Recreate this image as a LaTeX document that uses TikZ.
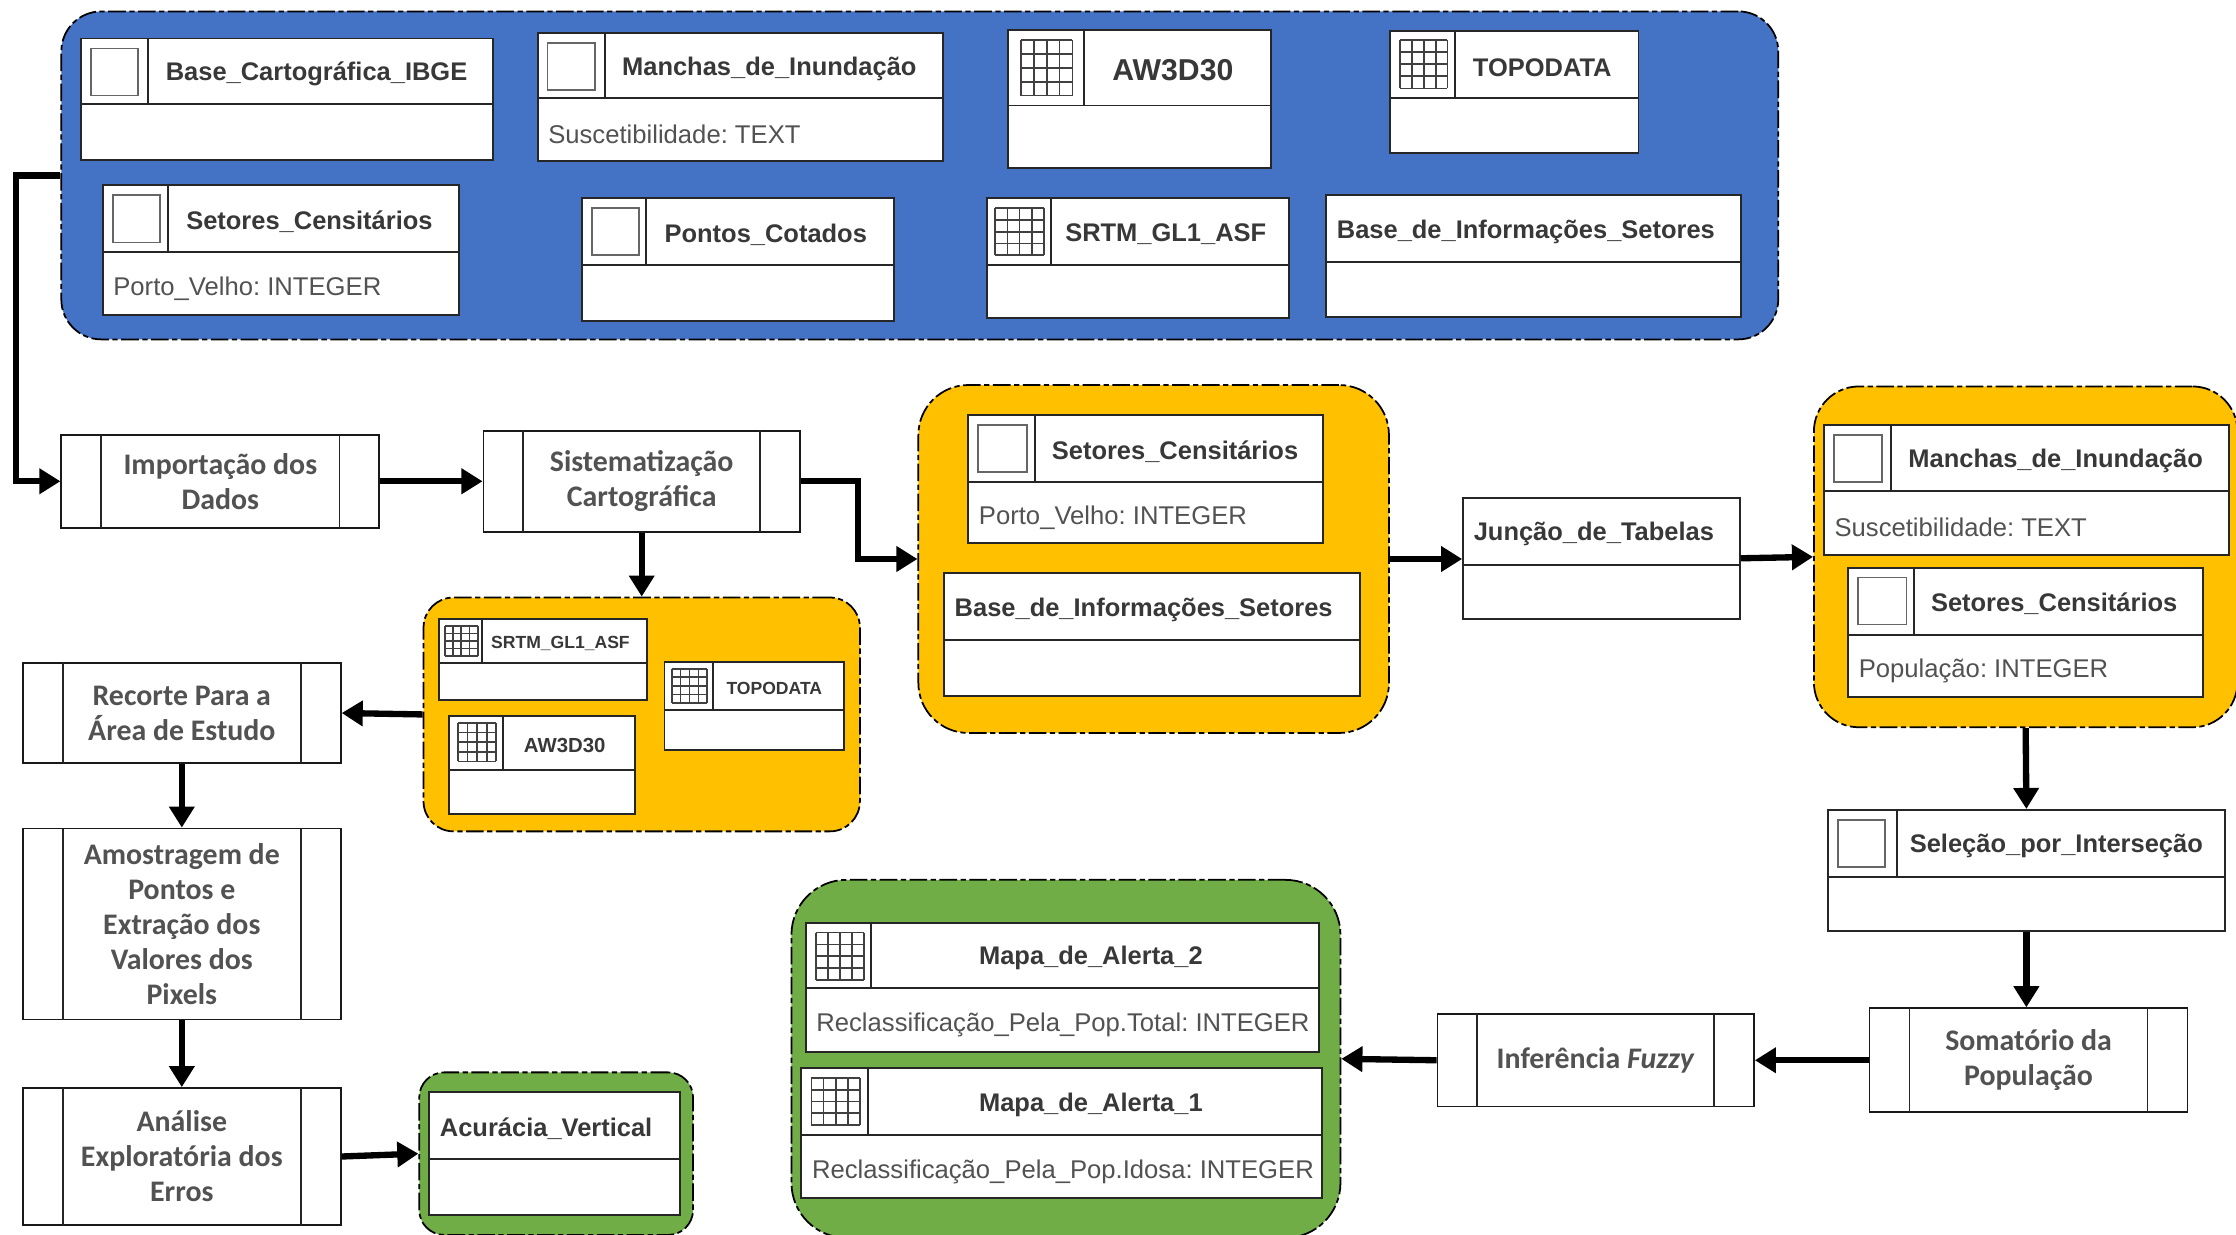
\documentclass[tikz,border=0pt]{standalone}
\usepackage{fontspec}
\setmainfont{Liberation Sans}
\newfontfamily\fontproc{Carlito}
\frenchspacing
\usetikzlibrary{arrows.meta, fit}
\definecolor{azulgrupo}{HTML}{4472C4}
\definecolor{laranjagrupo}{HTML}{FFC000}
\definecolor{verdegrupo}{HTML}{70AD47}
\tikzset{
    grupo/.style = {draw = black, line width = 0.5pt, rounded corners = 5mm, inner sep = 0pt, dash pattern = on 5pt off 1pt on 1.5pt off 1pt},
    tabela/.style = {draw = black!85, fill = white, line width = 0.55pt, inner sep = 0pt},
    linha/.style = {draw = black!85, line width = 0.55pt},
    icone/.style = {draw = black!60, line width = 0.5pt},
    titulo/.style = {font = \bfseries\fontsize{7.25}{9}\selectfont, text = black!78, inner sep = 0pt},
    atributo/.style = {font = \fontsize{7.3}{9}\selectfont, text = black!68, inner sep = 0pt, anchor = west},
    processo/.style = {draw = black!90, fill = white, line width = 0.5pt, inner sep = 0pt},
    rotulo/.style = {font = \fontproc\bfseries\fontsize{8.5}{9.95}\selectfont, text = black!68, align = center, inner sep = 0pt},
    seta/.style = {line width = 1.8pt, -{Triangle[length = 6pt, width = 7pt]}}
}
\newcommand{\tabsimples}[7]{
    \node [tabela, fit = {(#2, #3) (#4, #5)}] (#1) {};
    \draw [linha] (#2, #6) -- (#4, #6);
    \node [titulo, anchor = west] (#1Titulo) at (#2 + 7, {(#3 + #6) / 2 + 2}) {#7};
}
\newcommand{\tabcomicone}[9]{
    \node [tabela, fit = {(#2, #3) (#4, #5)}] (#1) {};
    \draw [linha] (#2, #6) -- (#4, #6);
    \draw [linha] (#7, #3) -- (#7, #6);
    \node [titulo] (#1Titulo) at ({(#7 + #4) / 2 - 3}, {(#3 + #6) / 2 + 2}) {#8};
    \node [atributo] (#1Atributo) at (#2 + 7, {(#6 + #5) / 2 + 3.5}) {#9};
}
\newcommand{\iconevazio}[4]{
    \draw [icone] (#1, #2) rectangle (#3, #4);
}
\newcommand{\iconegrade}[4]{
    \foreach \i in {0, ..., 4} {
        \draw [icone, draw = black!75] ({#1 + (#3 - #1) * \i / 4}, #2) -- ({#1 + (#3 - #1) * \i / 4}, #4);
        \draw [icone, draw = black!75] (#1, {#2 + (#4 - #2) * \i / 4}) -- (#3, {#2 + (#4 - #2) * \i / 4});
    }
}
\newcommand{\etapa}[6]{
    \node [processo, fit = {(#2, #3) (#4, #5)}] (#1) {};
    \draw [linha, line width = 0.5pt] (#2 + 28, #3) -- (#2 + 28, #5);
    \draw [linha, line width = 0.5pt] (#4 - 28, #3) -- (#4 - 28, #5);
    \node [rotulo] (#1Rotulo) at (#1.center) {#6};
}
\begin{document}
\begin{tikzpicture}[x = 0.01426cm, y = -0.01426cm]
    \useasboundingbox (0, 0) rectangle (1568, 866);

    \node [grupo, fill = azulgrupo, rounded corners = 4mm, fit = {(43, 8) (1247, 238)}] (grupoBase) {};
    \tabcomicone{tabIBGE}{57}{27}{346}{112}{73}{104}{Base\_Cartográfica\_IBGE}{}
    \iconevazio{64}{34}{97}{67}
    \tabcomicone{tabManchas}{377}{23}{661}{113}{69}{424}{Manchas\_de\_Inundação}{Suscetibilidade: TEXT}
    \iconevazio{384}{30}{417}{63}
    \begin{scope}[titulo/.append style = {font = \bfseries\fontsize{8.6}{11}\selectfont}]
        \tabcomicone{tabAW}{707}{21}{891}{118}{74}{760}{AW3D30}{}
    \end{scope}
    \iconegrade{716}{28}{752}{67}
    \tabcomicone{tabTopo}{975}{22}{1149}{107}{69}{1020}{TOPODATA}{}
    \iconegrade{982}{28}{1015}{62}
    \tabcomicone{tabSetores}{72}{130}{322}{221}{177}{118}{Setores\_Censitários}{Porto\_Velho: INTEGER}
    \iconevazio{79}{137}{112}{170}
    \tabcomicone{tabPontos}{408}{139}{627}{225}{186}{453}{Pontos\_Cotados}{}
    \iconevazio{415}{146}{448}{179}
    \tabcomicone{tabSRTM}{692}{139}{904}{223}{186}{737}{SRTM\_GL1\_ASF}{}
    \iconegrade{698}{146}{732}{179}
    \tabsimples{tabInfo}{930}{137}{1221}{222}{184}{Base\_de\_Informações\_Setores}

    \etapa{procImport}{43}{305}{266}{370}{Importação dos\\Dados}
    \etapa{procSist}{339}{302}{561}{373}{Sistematização\\Cartográfica}

    \node [grupo, fill = laranjagrupo, fit = {(644, 270) (974, 514)}] (grupoJuncao) {};
    \tabcomicone{tabSetoresDois}{679}{291}{928}{381}{338}{726}{Setores\_Censitários}{Porto\_Velho: INTEGER}
    \iconevazio{686}{298}{720}{331}
    \tabsimples{tabInfoDois}{662}{402}{954}{488}{449}{Base\_de\_Informações\_Setores}

    \tabsimples{tabJuncao}{1026}{349}{1220}{434}{396}{Junção\_de\_Tabelas}

    \node [grupo, fill = laranjagrupo, rounded corners = 4.5mm, fit = {(1272, 271) (1569, 510)}] (grupoInter) {};
    \tabcomicone{tabManchasDois}{1279}{298}{1563}{389}{344}{1326}{Manchas\_de\_Inundação}{Suscetibilidade: TEXT}
    \iconevazio{1286}{305}{1320}{338}
    \tabcomicone{tabSetoresTres}{1296}{398}{1545}{489}{445}{1342}{Setores\_Censitários}{População: INTEGER}
    \iconevazio{1303}{405}{1337}{438}

    \tabcomicone{tabSelecao}{1282}{568}{1560}{653}{615}{1330}{Seleção\_por\_Interseção}{}
    \iconevazio{1289}{575}{1322}{608}

    \etapa{procSoma}{1311}{707}{1534}{780}{Somatório da\\População}
    \etapa{procFuzzy}{1008}{711}{1230}{776}{Inferência \textit{Fuzzy}}

    \node [grupo, fill = verdegrupo, rounded corners = 5.5mm, fit = {(555, 617) (940, 868)}] (grupoAlerta) {};
    \tabcomicone{tabAlertaDois}{565}{647}{925}{738}{693}{611}{Mapa\_de\_Alerta\_2}{Reclassificação\_Pela\_Pop.Total: INTEGER}
    \iconegrade{572}{654}{606}{687}
    \tabcomicone{tabAlertaUm}{562}{749}{927}{840}{796}{609}{Mapa\_de\_Alerta\_1}{Reclassificação\_Pela\_Pop.Idosa: INTEGER}
    \iconegrade{569}{756}{603}{789}

    \node [grupo, fill = laranjagrupo, rounded corners = 3mm, fit = {(297, 419) (603, 583)}] (grupoMDE) {};
    \begin{scope}[titulo/.append style = {font = \bfseries\fontsize{5}{6}\selectfont}]
        \tabcomicone{tabSRTMDois}{308}{434}{454}{491}{465}{338}{SRTM\_GL1\_ASF}{}
        \tabcomicone{tabTopoDois}{466}{464}{592}{526}{498}{500}{TOPODATA}{}
    \end{scope}
    \begin{scope}[titulo/.append style = {font = \bfseries\fontsize{5.8}{7}\selectfont}]
        \tabcomicone{tabAWDois}{315}{502}{445}{571}{540}{353}{AW3D30}{}
    \end{scope}
    \iconegrade{312}{439}{335}{460}
    \iconegrade{471}{469}{496}{493}
    \iconegrade{321}{507}{348}{534}

    \etapa{procRecorte}{16}{465}{239}{535}{Recorte Para a\\Área de Estudo}
    \etapa{procAmostra}{16}{581}{239}{715}{Amostragem de\\Pontos e\\Extração dos\\Valores dos\\Pixels}
    \etapa{procAnalise}{16}{763}{239}{859}{Análise\\Exploratória dos\\Erros}

    \node [grupo, fill = verdegrupo, rounded corners = 2.5mm, fit = {(294, 752) (486, 866)}] (grupoAcuracia) {};
    \tabsimples{tabAcuracia}{301}{766}{477}{852}{813}{Acurácia\_Vertical}

    \draw [seta] (grupoBase.west) -- ++(-31, 0) |- (procImport.west);
    \draw [seta] (procImport.east |- procSist.west) -- (procSist.west);
    \draw [seta] (procSist.east) -- ++(40, 0) |- (grupoJuncao.west);
    \draw [seta] (procSist.south) -- (grupoMDE.north -| procSist.south);
    \draw [seta] (grupoMDE.west) -- (procRecorte.east);
    \draw [seta] (procRecorte.south) -- (procAmostra.north);
    \draw [seta] (procAmostra.south) -- (procAnalise.north);
    \draw [seta] (procAnalise.east) -- (grupoAcuracia.west);
    \draw [seta] (grupoJuncao.east) -- (tabJuncao.west |- grupoJuncao.east);
    \draw [seta] (tabJuncao.east) -- (grupoInter.west);
    \draw [seta] (grupoInter.south) -- (tabSelecao.north);
    \draw [seta] (tabSelecao.south) -- (tabSelecao.south |- procSoma.north);
    \draw [seta] (procSoma.west) -- (procFuzzy.east);
    \draw [seta] (procFuzzy.west) -- (grupoAlerta.east);
\end{tikzpicture}
\end{document}
